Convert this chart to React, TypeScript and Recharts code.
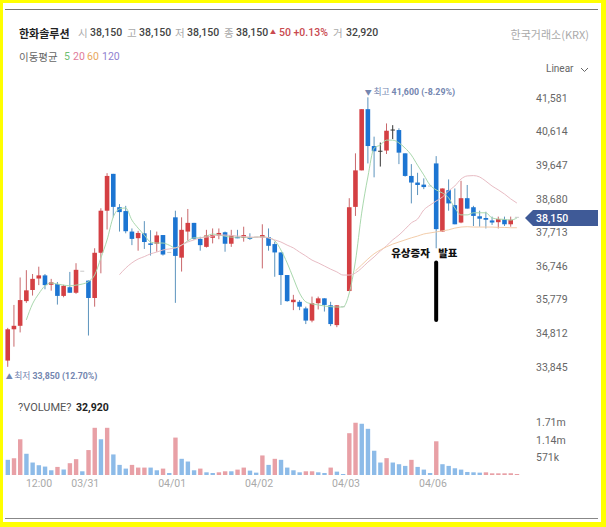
import { ComposedChart, BarChart, Bar, Line, XAxis, YAxis, Cell, ReferenceLine, ReferenceDot } from 'recharts';

const days = ['03/30', '03/31', '04/01', '04/02', '04/03', '04/06', '04/07'];
const sessions = ['09:00', '09:30', '10:00', '10:30', '11:00', '11:30', '12:00', '12:30', '13:00', '13:30', '14:00', '14:30', '15:00', '15:30'];
const categories = days.flatMap((d) => sessions.map((s) => d + ' ' + s)).slice(2, 85);

const opens = [
  34030, 34930, 35030, 35740, 36060, 36390, 36480, 36210, 36230, 35890, 36140, 35980, 36600, 36330, 35830, 37130, 38340, 39400, 38440, 38330,
  37740, 37550, 37690, 37400, 37390, 37640, 37140, 38150, 36990, 37740, 37990, 37530, 37300, 37560, 37620, 37720, 37390, 37590, 37560, 37580,
  37580, 37570, 37580, 37380, 37140, 36490, 35710, 35720, 35530, 35180, 35680, 35820, 35620, 35050, 35580, 36030, 38450, 39500, 41260, 40200,
  40050, 40070, 40660, 40660, 39990, 39340, 39150, 39090, 39050, 39700, 37740, 38930, 38500, 38000, 38700, 38440, 38180, 38130, 38060, 38010,
  38090, 37950, 38150,
];
const closes = [
  34930, 35030, 35770, 36050, 36380, 36480, 36200, 36280, 35890, 36180, 35980, 36640, 36600, 35830, 37130, 38340, 39340, 38450, 38300, 37750,
  37530, 37700, 37440, 37370, 37630, 37080, 37140, 37040, 37790, 37990, 37530, 37350, 37630, 37640, 37700, 37390, 37630, 37560, 37640, 37530,
  37580, 37640, 37330, 37140, 36490, 35740, 35780, 35580, 35180, 35680, 35820, 35630, 35080, 35620, 35580, 38440, 39500, 41260, 40200, 40050,
  40050, 40640, 40660, 40010, 39340, 39150, 39080, 39020, 39050, 37810, 38980, 38550, 37950, 38700, 38400, 38190, 38110, 38080, 38000, 38100,
  37950, 38080, 38150,
];
const highs = [
  34970, 35630, 36420, 36630, 36520, 36730, 36520, 36380, 36290, 36210, 36580, 36830, 36600, 36330, 37260, 38410, 39420, 39400, 38530, 38480,
  37830, 37760, 38040, 37780, 37740, 37640, 37140, 38340, 38150, 38390, 37990, 37590, 37790, 37830, 37830, 37740, 37790, 37790, 37880, 37690,
  37580, 37950, 37830, 37450, 37140, 36490, 35920, 35770, 35580, 35870, 35870, 35820, 35720, 35620, 35580, 38700, 39990, 41260, 41600, 40470,
  40300, 40850, 40800, 40710, 39990, 39680, 39430, 39270, 39050, 39910, 38980, 39240, 38980, 39200, 39080, 38480, 38340, 38310, 38170, 38170,
  38170, 38170, 38150,
];
const lows = [
  33850, 34430, 34840, 35690, 35900, 36200, 36080, 36040, 35640, 35850, 35980, 35950, 36600, 34750, 35580, 36540, 37800, 38150, 37740, 37690,
  37350, 37190, 37240, 37050, 37160, 37050, 37140, 35690, 36590, 37480, 37500, 37190, 37280, 37400, 37520, 37160, 37300, 37550, 37450, 37500,
  37580, 36680, 37190, 36440, 35630, 35720, 35480, 35480, 35080, 35130, 35500, 35440, 35020, 34990, 35580, 36030, 38190, 39500, 39700, 39300,
  39610, 39970, 40400, 39680, 39320, 38550, 38790, 38960, 39050, 37260, 37740, 38340, 37950, 37980, 38400, 37900, 37880, 37830, 37930, 37830,
  37900, 37880, 38150,
];
const ma5 = [
  null, null, null, 35200, 35660, 35950, 36180, 36260, 36230, 36200, 36180, 36200, 36230, 36300, 36490, 36980, 37500, 38160, 38390, 38420,
  38070, 37840, 37640, 37440, 37410, 37410, 37350, 37270, 37350, 37470, 37560, 37560, 37610, 37670, 37640, 37610, 37580, 37580, 37580, 37560,
  37580, 37590, 37560, 37480, 37210, 36840, 36400, 35970, 35720, 35660, 35630, 35600, 35580, 35570, 35570, 35970, 36890, 38270, 39310, 40140,
  40230, 40370, 40370, 40290, 40140, 39940, 39650, 39370, 39080, 38940, 38850, 38710, 38420, 38220, 38220, 38280, 38280, 38280, 38130, 38100,
  38090, 38070, 38130,
];
const ma20 = [
  null, null, null, null, null, null, null, null, null, null, null, null, null, null, null, null, null, null, 36500, 36690,
  36840, 36950, 37020, 37100, 37150, 37210, 37240, 37270, 37350, 37440, 37500, 37560, 37580, 37610, 37640, 37640, 37630, 37610, 37600, 37580,
  37580, 37580, 37560, 37500, 37440, 37350, 37270, 37150, 37040, 36920, 36840, 36750, 36660, 36580, 36490, 36490, 36550, 36690, 36860, 37010,
  37180, 37330, 37500, 37640, 37810, 37990, 38100, 38360, 38500, 38620, 38730, 38910, 39050, 39250, 39340, 39350, 39310, 39190, 39050, 38940,
  38820, 38680, 38560,
];
const ma60 = [
  null, null, null, null, null, null, null, null, null, null, null, null, null, null, null, null, null, null, null, null,
  null, null, null, null, null, null, null, null, null, null, null, null, null, null, null, null, null, null, null, null,
  null, null, null, null, null, null, null, null, null, null, null, null, null, null, null, null, 36610, 36780, 36950, 37100,
  37210, 37300, 37380, 37440, 37500, 37560, 37610, 37670, 37700, 37730, 37760, 37790, 37840, 37870, 37880, 37870, 37870, 37870, 37870, 37860,
  37860, 37850, 37850,
];
const volumes = [
  495000, 550000, 1166000, 693000, 407000, 319000, 275000, 154000, 264000, 176000, 385000, 517000, 121000, 814000, 1540000, 1166000, 1540000, 671000, 330000, 209000,
  330000, 242000, 242000, 242000, 154000, 209000, 66000, 1221000, 528000, 440000, 154000, 209000, 88000, 66000, 88000, 121000, 121000, 176000, 242000, 143000,
  77000, 638000, 330000, 528000, 495000, 242000, 154000, 88000, 121000, 121000, 88000, 66000, 242000, 110000, 33000, 1364000, 1705000, 1672000, 1507000, 792000,
  407000, 550000, 407000, 352000, 297000, 495000, 264000, 176000, 66000, 1100000, 352000, 297000, 220000, 176000, 99000, 88000, 77000, 88000, 55000, 55000,
  55000, 55000, 32920,
];
const volumeUpAt = [1, 2, 8, 10, 11, 13, 14, 16, 20, 21, 22, 25, 27, 31, 34, 35, 37, 38, 41, 43, 48, 49, 52, 55, 56, 61, 65, 69, 77, 78, 79, 80, 81, 82];

const priceTicks = [33845, 34812, 35779, 36746, 37713, 38680, 39647, 40614, 41581];
const volumeTicks = [571000, 1140000, 1710000];
const dateTicks = ['03/30 12:00', '03/31 09:00', '04/01 09:00', '04/02 09:00', '04/03 09:00', '04/06 09:00'];

const candles = categories.map((t, i) => ({
  t,
  open: opens[i],
  close: closes[i],
  high: highs[i],
  low: lows[i],
  ma5: ma5[i],
  ma20: ma20[i],
  ma60: ma60[i],
}));
const volumeRows = categories.map((t, i) => ({ t, volume: volumes[i] }));

const FONT = 'Roboto, "Noto Sans CJK KR", sans-serif';
const KR = '"Noto Sans CJK KR", Roboto, sans-serif';
const RED = '#d43f43';
const BLUE = '#1c75d2';

function Candle(props: any) {
  const { y, height, payload, x, width } = props;
  const { open, close, high, low } = payload;
  const cx = x + width / 2;
  const span = high - low;
  if (span === 0) {
    return <rect x={cx - 2} y={y - 0.5} width={4} height={1} fill="#c9c9c9" />;
  }
  const perUnit = height / span;
  const top = y + (high - Math.max(open, close)) * perUnit;
  const bodyH = Math.abs(open - close) * perUnit;
  if (open === close) {
    return (
      <g>
        <line x1={cx} x2={cx} y1={y} y2={y + height} stroke="#333" strokeWidth={1} />
        <line x1={cx - 2.2} x2={cx + 2.2} y1={top} y2={top} stroke="#333" strokeWidth={1} />
      </g>
    );
  }
  const color = close > open ? RED : BLUE;
  return (
    <g>
      <line x1={cx} x2={cx} y1={y} y2={y + height} stroke={close > open ? '#c9686c' : '#5c93bd'} strokeWidth={1} />
      <rect x={cx - 2.3} y={top} width={4.6} height={Math.max(bodyH, 1.5)} fill={color} />
    </g>
  );
}

function PriceTag(props: any) {
  const { viewBox } = props;
  const y = viewBox.y + 0.8;
  const x0 = 525;
  return (
    <g>
      <path d={`M${x0} ${y} L${x0 + 8} ${y - 8} L598 ${y - 8} L598 ${y + 8} L${x0 + 8} ${y + 8} Z`} fill="#3f5a97" />
      <text x={536} y={y + 4} fill="#fff" fontSize={10.5} fontFamily={FONT} fontWeight={500}>38,150</text>
    </g>
  );
}

function Extreme(props: any) {
  const { viewBox, text, dx, dy, mark } = props;
  return (
    <text x={viewBox.x + dx} y={viewBox.y + dy} fontSize={8.8} fontFamily={KR} fill="#7486b0">
      <tspan fontSize={7}>{mark} </tspan>
      <tspan>{text[0]} </tspan>
      <tspan fontFamily={FONT} fontWeight={700}>{text[1]}</tspan>
    </text>
  );
}

function Notice(props: any) {
  const { viewBox } = props;
  const y = viewBox.y + 4;
  const shared = { y, fontSize: 10.5, fontWeight: 900, fontFamily: KR, fill: '#111' };
  return (
    <g>
      <text x={viewBox.x - 45} {...shared}>유상증자</text>
      <text x={viewBox.x + 2} {...shared}>발표</text>
    </g>
  );
}

function DateTick(props: any) {
  const { x, y, payload } = props;
  const [day, time] = String(payload.value).split(' ');
  const isTime = time !== '09:00';
  return (
    <text x={x + (isTime ? 6.5 : 3)} y={y + 4} textAnchor="middle" fontSize={10.5} fontFamily={FONT} fill="#a9a9a9">
      {isTime ? time : day}
    </text>
  );
}

function Txt({ x, y, children, color = '#333', size = 10.5, weight = 400, font = FONT, right }: any) {
  const style: any = {
    position: 'absolute',
    top: y - 10,
    lineHeight: '20px',
    fontSize: size,
    color,
    fontWeight: weight,
    fontFamily: font,
    whiteSpace: 'nowrap',
  };
  if (right !== undefined) style.right = right;
  else style.left = x;
  return <span style={style}>{children}</span>;
}

export default function App() {
  const volFmt = (v: number) => (v >= 1000000 ? (v / 1000000).toFixed(2) + 'm' : Math.round(v / 1000) + 'k');
  return (
    <div style={{ position: 'absolute', left: 0, top: 0, width: 606, height: 527, background: '#ffff00', overflow: 'hidden' }}>
      <div style={{ position: 'absolute', left: 3, top: 3, width: 598, height: 519, background: '#fff' }} />
      <div style={{ position: 'absolute', left: 5, top: 9, width: 593, height: 1, background: '#777' }} />
      <div style={{ position: 'absolute', left: 5, top: 518, width: 593, height: 1, background: '#888' }} />

      <Txt x={19} y={33} size={11} weight={700} font={KR} color="#222">한화솔루션</Txt>
      <Txt x={78} y={33} font={KR} color="#aaa">시</Txt>
      <Txt x={90} y={33} weight={500} color="#444">38,150</Txt>
      <Txt x={127} y={33} font={KR} color="#aaa">고</Txt>
      <Txt x={139} y={33} weight={500} color="#444">38,150</Txt>
      <Txt x={175} y={33} font={KR} color="#aaa">저</Txt>
      <Txt x={187} y={33} weight={500} color="#444">38,150</Txt>
      <Txt x={224} y={33} font={KR} color="#aaa">종</Txt>
      <Txt x={236} y={33} weight={500} color="#444">38,150</Txt>
      <Txt x={270} y={32} size={6} color="#c94a50">▲</Txt>
      <Txt x={279} y={33} weight={500} color="#c94a50">50 +0.13%</Txt>
      <Txt x={333} y={33} font={KR} color="#aaa">거</Txt>
      <Txt x={346} y={33} weight={500} color="#444">32,920</Txt>
      <Txt y={34} right={17} font={KR} color="#aaa" size={11}>한국거래소(KRX)</Txt>

      <Txt x={19} y={57} font={KR} color="#666">이동평균</Txt>
      <Txt x={64} y={57} color="#6fbf73">5</Txt>
      <Txt x={73} y={57} color="#e07a9a">20</Txt>
      <Txt x={87} y={57} color="#e8a860">60</Txt>
      <Txt x={102} y={57} color="#8f7fd0">120</Txt>

      <Txt x={546} y={69} size={10} color="#666">Linear</Txt>
      <svg style={{ position: 'absolute', left: 580, top: 67 }} width={9} height={6}>
        <path d="M1 1 L4.5 4.5 L8 1" fill="none" stroke="#666" strokeWidth={1} />
      </svg>

      <div style={{ position: 'absolute', left: 0, top: 0 }}>
        <ComposedChart width={606} height={400} data={candles} margin={{ top: 80, right: 0, bottom: 5, left: 4.6 }}>
          <XAxis dataKey="t" hide />
          <YAxis
            orientation="right"
            width={86}
            domain={[33040, 42099]}
            ticks={priceTicks}
            axisLine={false}
            tickLine={false}
            tickMargin={10}
            interval={0}
            tick={{ fontSize: 10.5, fontFamily: FONT, fill: '#666' }}
            tickFormatter={(v: number) => v.toLocaleString('en-US')}
          />
          <Bar dataKey={(d: any) => [d.low, d.high]} shape={<Candle />} isAnimationActive={false} />
          <Line dataKey="ma5" type="monotone" stroke="#a9d8ad" strokeWidth={1} dot={false} connectNulls={false} isAnimationActive={false} />
          <Line dataKey="ma20" type="monotone" stroke="#e8bcc4" strokeWidth={1} dot={false} connectNulls={false} isAnimationActive={false} />
          <Line dataKey="ma60" type="monotone" stroke="#f3cdaa" strokeWidth={1} dot={false} connectNulls={false} isAnimationActive={false} />
          <ReferenceLine y={38150} stroke="none" label={<PriceTag />} />
          <ReferenceDot x={categories[58]} y={41600} r={0} stroke="none" label={<Extreme text={['최고', '41,600 (-8.29%)']} mark="▼" dx={-3} dy={-2} />} />
          <ReferenceDot x={categories[0]} y={33850} r={0} stroke="none" label={<Extreme text={['최저', '33,850 (12.70%)']} mark="▲" dx={-2} dy={12} />} />
          <ReferenceLine
            segment={[{ x: categories[69], y: 36850 }, { x: categories[69], y: 35200 }]}
            stroke="#000"
            strokeWidth={4}
            strokeLinecap="round"
          />
          <ReferenceDot x={categories[69]} y={37115} r={0} stroke="none" label={<Notice />} />
        </ComposedChart>
      </div>

      <Txt x={18} y={407.5} size={11} color="#555">?VOLUME?</Txt>
      <Txt x={76} y={407.5} size={10.5} weight={700} color="#222">32,920</Txt>

      <div style={{ position: 'absolute', left: 0, top: 400 }}>
        <BarChart width={606} height={100} data={volumeRows} margin={{ top: 5, right: 0, bottom: 0, left: 4.6 }}>
          <XAxis
            dataKey="t"
            height={25}
            ticks={dateTicks}
            interval={0}
            axisLine={false}
            tickLine={false}
            tick={<DateTick />}
          />
          <YAxis
            orientation="right"
            width={86}
            domain={[0, 2284000]}
            ticks={volumeTicks}
            axisLine={false}
            tickLine={false}
            tickMargin={10}
            interval={0}
            tick={{ fontSize: 10.5, fontFamily: FONT, fill: '#666' }}
            tickFormatter={volFmt}
          />
          <Bar dataKey="volume" barSize={4.4} isAnimationActive={false}>
            {volumeRows.map((_, i) => (
              <Cell key={i} fill={volumeUpAt.includes(i) ? '#e8a0a6' : '#8dbbe8'} />
            ))}
          </Bar>
        </BarChart>
      </div>
    </div>
  );
}
